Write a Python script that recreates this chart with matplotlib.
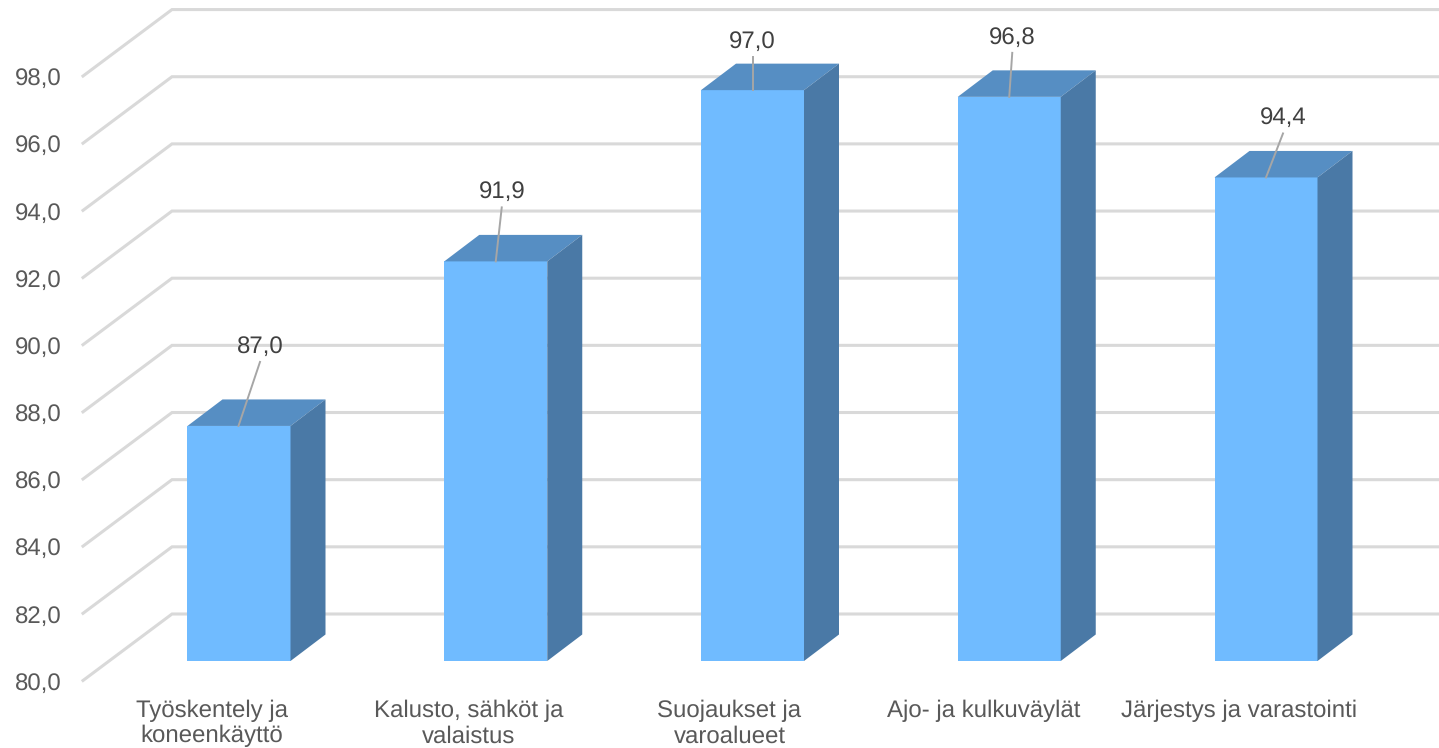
import matplotlib
matplotlib.use("Agg")
import matplotlib.pyplot as plt
from matplotlib.patches import Polygon

plt.rcParams['font.family'] = ['Liberation Sans', 'DejaVu Sans']
plt.rcParams['text.hinting'] = 'none'

categories = ["Työskentely ja\nkoneenkäyttö", "Kalusto, sähköt ja\nvalaistus", "Suojaukset ja\nvaroalueet",
              "Ajo- ja kulkuväylät", "Järjestys ja varastointi"]
values = [87.0, 91.9, 97.0, 96.8, 94.4]
yticks = [80, 82, 84, 86, 88, 90, 92, 94, 96, 98]

# pixel layout of the 3d look
W, H = 1439, 748
PX_CAT = 256.75   # px between bars
PX_VAL = 33.58    # px per one unit
X0 = 239          # px centre of first bar
Y0 = 661          # px of value 80 at bar front


def dx(px):
    return px / PX_CAT


def dy(px):
    return px / PX_VAL


fig = plt.figure(figsize=(W / 100, H / 100), dpi=100)
ax = fig.add_axes([0, 0, 1, 1])
ax.set_xlim(-X0 / PX_CAT, (W - X0) / PX_CAT)
ax.set_ylim(80 - (H - Y0) / PX_VAL, 80 + Y0 / PX_VAL)
ax.axis("off")

# walls: left wall diagonal + back wall line
wall_left = ax.get_xlim()[0] + dx(83)
wall_corner = ax.get_xlim()[0] + dx(172)
for t in yticks:
    ax.plot([wall_left, wall_corner, ax.get_xlim()[1]], [t - dy(19.5), t + dy(47), t + dy(47)],
            color="#d9d9d9", lw=2.2, solid_joinstyle="miter", zorder=1)
    ax.text(wall_left - dx(21), t - dy(20), f"{t:.1f}".replace(".", ","), ha="right", va="center_baseline",
            fontsize=17.3, color="#595959")

bar_w = dx(103)
depth_x, depth_y = dx(35), dy(26.5)
x_pos = list(range(len(values)))
ax.bar(x_pos, [v - 80 for v in values], width=bar_w, bottom=80, color="#70bbff", zorder=3)

for x, v in zip(x_pos, values):
    r = x + bar_w / 2
    l = x - bar_w / 2
    # top and side faces
    ax.add_patch(Polygon([(l, v), (r, v), (r + depth_x, v + depth_y), (l + depth_x, v + depth_y)],
                         closed=True, facecolor="#568ec3", edgecolor="none", zorder=3))
    ax.add_patch(Polygon([(r, 80), (r, v), (r + depth_x, v + depth_y), (r + depth_x, 80 + depth_y)],
                         closed=True, facecolor="#4a79a6", edgecolor="none", zorder=3))

# value labels with leader lines, offset px from the bar front top centre
label_off = [(21, 82), (6, 72), (0, 51), (3, 62), (17, 62)]
line_start = [-0.5, 0, 0, 0, 0]
for x, v, off, st in zip(x_pos, values, label_off, line_start):
    ax.plot([x + dx(st), x + dx(off[0])], [v, v + dy(off[1] - 18)], color="#a6a6a6", lw=1.4, zorder=4)
    ax.text(x + dx(off[0]), v + dy(off[1]), f"{v:.1f}".replace(".", ","), ha="center", va="center_baseline",
            fontsize=17.3, color="#404040", zorder=5)

# category labels under the floor
cat_off = [-27, -27, -23, -26, -27]
for x, c, off in zip(x_pos, categories, cat_off):
    ax.text(x + dx(off), 80 - dy(38.5), c, ha="center", va="top", fontsize=17.3, color="#595959",
            linespacing=1.18, clip_on=False)

fig.savefig("out.png", dpi=100, facecolor="white")
